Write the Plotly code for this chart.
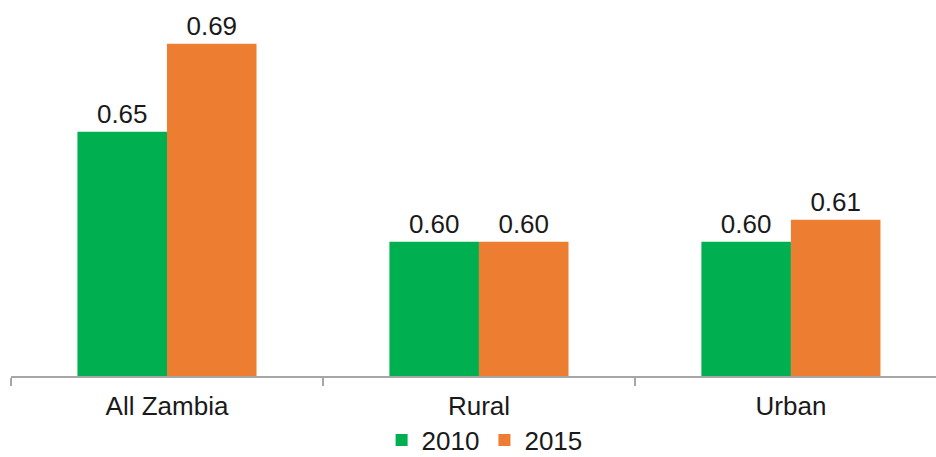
import plotly.graph_objects as go

categories = ["All Zambia", "Rural", "Urban"]
series_names = ["2010", "2015"]
values_2010 = [0.65, 0.60, 0.60]
values_2015 = [0.69, 0.60, 0.61]
colors = ["#00B050", "#ED7D31"]

fig = go.Figure()
for name, vals, col in zip(series_names, [values_2010, values_2015], colors):
    fig.add_trace(go.Bar(
        x=categories, y=vals, name=name,
        marker=dict(color=col, line=dict(width=0)),
        text=[f"{v:.2f}" for v in vals], textposition="outside",
        textfont=dict(size=26, color="#1a1a1a"),
        cliponaxis=False,
    ))

fig.update_layout(
    width=936, height=457,
    margin=dict(l=11, r=0, t=0, b=81, autoexpand=False),
    paper_bgcolor="white", plot_bgcolor="white",
    font=dict(family="Liberation Sans, Arial, sans-serif", size=26, color="#1a1a1a"),
    barmode="group", bargap=0.426, bargroupgap=0,
    showlegend=True,
    legend=dict(orientation="h", x=0.512, xanchor="center", y=-0.1702, yanchor="middle",
                font=dict(size=26), itemwidth=30, tracegroupgap=0, borderwidth=0,
                bgcolor="rgba(0,0,0,0)"),
    xaxis=dict(range=[-0.5, 2.465], showline=True, linecolor="#A6A6A6", linewidth=2,
               ticks="outside", tickson="boundaries", ticklen=8, tickwidth=2,
               tickcolor="#A6A6A6", showgrid=False, zeroline=False, automargin=False,
               ticklabelstandoff=6),
    yaxis=dict(range=[0.539, 0.7099], visible=False, showgrid=False, zeroline=False,
               automargin=False),
)
fig.write_html("out.html", config={"displayModeBar": False},
               post_script="document.body.style.margin='0';document.body.style.overflow='hidden';")
